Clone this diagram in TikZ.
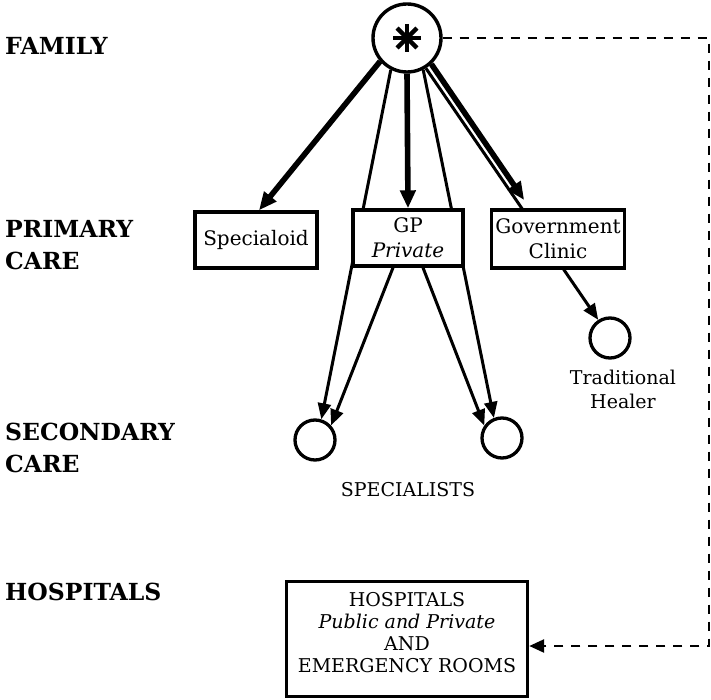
\documentclass[tikz,border=0pt]{standalone}
\usepackage{fontspec}
\setmainfont{DejaVu Serif}
\usetikzlibrary{arrows.meta}

\begin{document}
\begin{tikzpicture}[
  x=1pt, y=-1pt,
  level/.style={anchor=west, align=left, inner sep=0pt, font=\fontsize{23.5}{32}\selectfont\bfseries},
  box/.style={draw, line width=3.4pt, fill=white, align=center, inner sep=2pt, font=\fontsize{20}{25}\selectfont},
  unit/.style={draw, circle, line width=3.3pt, minimum size=40pt, inner sep=0pt},
  lbl/.style={align=center, inner sep=0pt, font=\fontsize{19}{24}\selectfont},
  route/.style={line width=3pt, -{Triangle[length=16pt,width=13pt]}},
  main/.style={line width=5.6pt, -{Triangle[length=18pt,width=15pt]}},
  refer/.style={line width=2.5pt, dash pattern=on 9pt off 8pt, -{Triangle[length=15pt,width=13pt]}}
]
\useasboundingbox (0,0) rectangle (711,700);

% levels of care
\node[level] (famlbl) at (5,46) {FAMILY};
\node[level] (primlbl) at (5,245) {PRIMARY\\CARE};
\node[level] (seclbl) at (5,448) {SECONDARY\\CARE};
\node[level] (hosplbl) at (5,592) {HOSPITALS};

% family and the round actors
\node[circle, draw, line width=3.4pt, minimum size=68pt, inner sep=0pt,
  path picture={\foreach \a in {0,45,90,135}
    \draw[line width=4.4pt] (path picture bounding box.center) +(\a:14pt) -- +(\a+180:14pt);}]
  (family) at (407,38) {};
\node[unit] (spL) at (315,440) {};
\node[unit] (spR) at (502,438) {};
\node[unit] (healer) at (610,338) {};

\draw[route] (family.243) -- (spL.73);
\draw[route] (family.297) -- (spR.112);
\draw[route] (family.302) -- (healer.123);

% primary care
\node[box, minimum width=122pt, minimum height=56pt] (spec) at (256,240) {Specialoid};
\node[box, minimum width=110pt, minimum height=56pt] (gp) at (408,238) {GP\\\textit{Private}};
\node[box, minimum width=133pt, minimum height=58pt] (clinic) at (558,239) {Government\\Clinic};

\draw[route] ([xshift=-15pt]gp.south) -- (spL.42);
\draw[route] ([xshift=15pt]gp.south) -- (spR.145);

\draw[main] (family.221) -- ([xshift=3pt]spec.north);
\draw[main] (family.south) -- (gp.north);
\draw[main, shorten >=10pt] (family.313) -- ([xshift=40pt]clinic.north west);

\node[lbl] (spcap) at (408,490) {SPECIALISTS};
\node[lbl] (healcap) at (623,389) {Traditional\\Healer};

% hospitals
\node[box, minimum width=241pt, minimum height=115pt, font=\fontsize{19}{22}\selectfont]
  (hosp) at (407,639) {HOSPITALS\\\textit{Public and Private}\\AND\\EMERGENCY ROOMS\\[-8pt]\mbox{}};

\coordinate (rim) at (709,38);
\draw[refer] (family.east) -- (rim) |- ([yshift=-7pt]hosp.east);

\end{tikzpicture}
\end{document}
